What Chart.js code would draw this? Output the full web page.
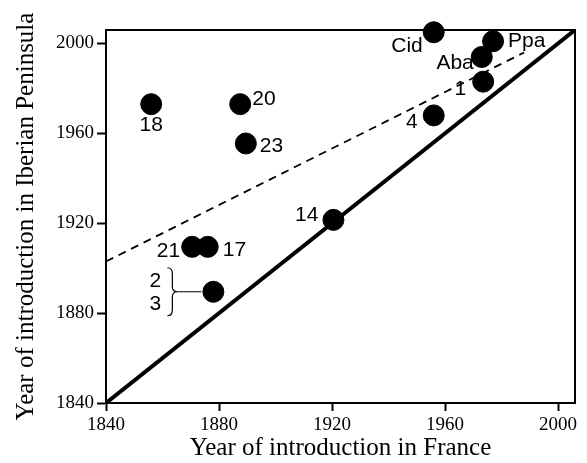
<!DOCTYPE html>
<html>
<head>
<meta charset="utf-8">
<script src="https://cdn.jsdelivr.net/npm/chart.js@4/dist/chart.umd.min.js"></script>
<style>
  html, body { margin: 0; padding: 0; background: #fff; }
  #wrap { width: 587px; height: 463px; }
</style>
</head>
<body>
<div id="wrap"><canvas id="chart" width="587" height="463"></canvas></div>
<script>
// species / populations
const labels = ["18", "20", "23", "Cid", "Ppa", "Aba", "1", "4", "14", "21", "17", "2,3"];
const yearFrance = [1856, 1887.5, 1889.5, 1956, 1977, 1973, 1973.5, 1956, 1920.5, 1870.5, 1876, 1878];
const yearIberia = [1973, 1973, 1955.5, 2005, 2001, 1994, 1983, 1968, 1921.5, 1909.5, 1909.5, 1889.5];

// reference lines
const identityX = [1840, 2006];
const identityY = [1840, 2006];
const regressionX = [1840, 1988];
const regressionY = [1903, 1996];

const tickValues = [1840, 1880, 1920, 1960, 2000];
const axisMin = 1840;
const axisMax = 2006;

// label placement: [dx, dy, align]
const labelPlacement = {
  "18": [0, 21, "center"],
  "20": [12, -5, "left"],
  "23": [14, 3, "left"],
  "Cid": [-11, 14, "right"],
  "Ppa": [15, 0, "left"],
  "Aba": [-8, 6, "right"],
  "1": [-17, 8, "right"],
  "4": [-16, 7, "right"],
  "14": [-15, -5, "right"],
  "21": [-12, 4, "right"],
  "17": [15, 3, "left"]
};

const points = yearFrance.map((x, i) => ({ x, y: yearIberia[i] }));

const pointLabels = {
  id: "pointLabels",
  beforeDatasetsDraw(chart) {
    const { ctx, chartArea: a } = chart;
    ctx.save();
    ctx.strokeStyle = "#000";
    ctx.lineWidth = 2;
    ctx.strokeRect(a.left, a.top, a.right - a.left, a.bottom - a.top);
    ctx.restore();
  },
  afterDatasetsDraw(chart) {
    const { ctx } = chart;
    const meta = chart.getDatasetMeta(0);
    ctx.save();
    ctx.fillStyle = "#000";
    ctx.strokeStyle = "#000";
    ctx.font = "21px 'Liberation Sans', Arial, sans-serif";
    ctx.textBaseline = "middle";
    meta.data.forEach((pt, i) => {
      const name = labels[i];
      if (name === "2,3") {
        const bx = pt.x - 41;
        ctx.textAlign = "center";
        ctx.fillText("2", pt.x - 58, pt.y - 11);
        ctx.fillText("3", pt.x - 58, pt.y + 12);
        // brace
        ctx.lineWidth = 1.2;
        ctx.beginPath();
        ctx.moveTo(bx - 5, pt.y - 24);
        ctx.quadraticCurveTo(bx, pt.y - 24, bx, pt.y - 18);
        ctx.lineTo(bx, pt.y - 5);
        ctx.quadraticCurveTo(bx, pt.y, bx + 5, pt.y);
        ctx.quadraticCurveTo(bx, pt.y, bx, pt.y + 5);
        ctx.lineTo(bx, pt.y + 18);
        ctx.quadraticCurveTo(bx, pt.y + 24, bx - 5, pt.y + 24);
        ctx.moveTo(bx + 5, pt.y);
        ctx.lineTo(pt.x - 12, pt.y);
        ctx.stroke();
        return;
      }
      const [dx, dy, align] = labelPlacement[name];
      ctx.textAlign = align;
      ctx.fillText(name, pt.x + dx, pt.y + dy);
    });
    ctx.restore();
  }
};

const serif = "'Liberation Serif', 'Times New Roman', serif";

new Chart(document.getElementById("chart"), {
  type: "scatter",
  data: {
    datasets: [
      {
        data: points,
        backgroundColor: "#000",
        borderColor: "#000",
        pointRadius: 10.5,
        pointHoverRadius: 10.5,
        clip: false,
        order: 0
      },
      {
        type: "line",
        data: identityX.map((x, i) => ({ x, y: identityY[i] })),
        borderColor: "#000",
        borderWidth: 4,
        pointRadius: 0,
        order: 1
      },
      {
        type: "line",
        data: regressionX.map((x, i) => ({ x, y: regressionY[i] })),
        borderColor: "#000",
        borderWidth: 1.8,
        borderDash: [8, 6],
        pointRadius: 0,
        order: 2
      }
    ]
  },
  options: {
    responsive: false,
    animation: false,
    layout: { padding: { top: 30, right: 12, left: 0, bottom: 0 } },
    plugins: {
      legend: { display: false },
      tooltip: { enabled: false }
    },
    scales: {
      x: {
        type: "linear",
        min: axisMin,
        max: axisMax,
        afterBuildTicks: (s) => { s.ticks = tickValues.map((v) => ({ value: v })); },
        afterFit: (s) => { s.height = 60; },
        border: { display: true, color: "#000", width: 2 },
        grid: { drawOnChartArea: false, drawTicks: true, tickLength: 8, tickWidth: 2, color: "#000" },
        ticks: { color: "#000", font: { family: serif, size: 19 }, padding: 3, maxRotation: 0, callback: (v) => String(v) },
        title: { display: true, text: "Year of introduction in France", color: "#000", font: { family: serif, size: 25 }, padding: { top: 0, bottom: 0 } }
      },
      y: {
        type: "linear",
        min: axisMin,
        max: axisMax,
        afterBuildTicks: (s) => { s.ticks = tickValues.map((v) => ({ value: v })); },
        afterFit: (s) => { s.width = 106; },
        border: { display: true, color: "#000", width: 2 },
        grid: { drawOnChartArea: false, drawTicks: true, tickLength: 9, tickWidth: 2, color: "#000" },
        ticks: { color: "#000", font: { family: serif, size: 19 }, padding: 3, callback: (v) => String(v) },
        title: { display: true, text: "Year of introduction in Iberian Peninsula", color: "#000", font: { family: serif, size: 25 }, padding: { top: 11, bottom: 0 } }
      }
    }
  },
  plugins: [pointLabels]
});
</script>
</body>
</html>
